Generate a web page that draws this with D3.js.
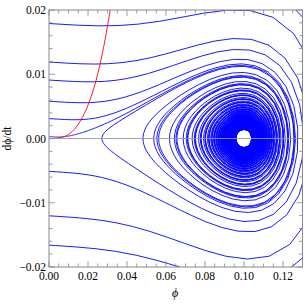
<!DOCTYPE html>
<html><head><meta charset="utf-8">
<script src="https://cdn.jsdelivr.net/npm/d3@7"></script>
<style>body{margin:0;background:#fff}svg{display:block}</style>
</head><body>
<script>
// ---- data ----
const xTickValues = [0, 0.02, 0.04, 0.06, 0.08, 0.10, 0.12];
const xTickLabels = ["0.00","0.02","0.04","0.06","0.08","0.10","0.12"];
const yTickValues = [-0.02, -0.01, 0, 0.01, 0.02];
const yTickLabels = ["\u22120.02","\u22120.01","0.00","0.01","0.02"];
// starting points of the blue trajectories (phi, dphi/dt) and integration direction
const seedPhi  = [0, 0, 0, 0, 0, 0, 0];
const seedDphi = [0.0179, 0.0119, 0.0091, 0.0058, 0.0031, 0.0003, -0.0166];
const seedDir  = [1, 1, 1, 1, 1, 1, -1]; // 1 forward in time, -1 backward in time
// red curve points
const redPhi  = [0, 0.004, 0.008, 0.012, 0.016, 0.020, 0.024, 0.028, 0.0315];
const redDphi = [0, 0.00004, 0.00033, 0.0011, 0.0027, 0.0052, 0.0089, 0.0142, 0.0202];
// model constants (Coleman-Weinberg-like potential with friction)
const vev = 0.1;        // centre of the spiral
const lambda = 3.0;     // potential strength
const damping = 0.019;  // friction coefficient at and above the separatrix energy
const holeHalfWidth = 0.004; // half width of the empty hole around the centre

const W = 306, H = 306;
const m = {l: 49, r: 3.5, t: 10, b: 39};
const x = d3.scaleLinear().domain([0, 0.13]).range([m.l, W - m.r]);
const y = d3.scaleLinear().domain([-0.02, 0.02]).range([H - m.b, m.t]);

const svg = d3.select("body").append("svg").attr("width", W).attr("height", H);
svg.append("defs").append("clipPath").attr("id","clip").append("rect")
  .attr("x", x(0)).attr("y", y(0.02)).attr("width", x(0.13)-x(0)).attr("height", y(-0.02)-y(0.02));

function V(f){ if (f === 0) return lambda*Math.pow(vev,4)/4;
  const a = Math.abs(f); return lambda*(Math.pow(a,4)*(Math.log(a/vev)-0.25) + Math.pow(vev,4)/4); }
function dV(f){ if (f === 0) return 0; return 4*lambda*f*f*f*Math.log(Math.abs(f)/vev); }
const Esep = V(0);
function deriv(f, p){
  const E = Math.max(0, p*p/2 + V(f));
  const gam = damping*Math.min(1, Math.sqrt(E/Esep));
  return [p, -gam*p - dV(f)];
}
const omega2 = 4*lambda*vev*vev;
const rhoHole = omega2*holeHalfWidth*holeHalfWidth/2;

function integrate(f0, p0, dir){
  const pts = [[f0,p0]]; let f=f0, p=p0; const dt = 0.2*dir;
  for (let i=0;i<400000;i++){
    const k1=deriv(f,p), k2=deriv(f+dt/2*k1[0], p+dt/2*k1[1]),
          k3=deriv(f+dt/2*k2[0], p+dt/2*k2[1]), k4=deriv(f+dt*k3[0], p+dt*k3[1]);
    f += dt/6*(k1[0]+2*k2[0]+2*k3[0]+k4[0]); p += dt/6*(k1[1]+2*k2[1]+2*k3[1]+k4[1]);
    if (i % 3 === 0) pts.push([f,p]);
    if (f < -0.003 || f > 0.2 || Math.abs(p) > 0.06) break;
    if (dir>0 && p*p/2 + V(f) < rhoHole) break;
  }
  pts.push([f,p]);
  return pts;
}

const line = d3.line().x(d=>x(d[0])).y(d=>y(d[1]));
const g = svg.append("g").attr("clip-path","url(#clip)");
seedPhi.forEach((f,i)=>{
  g.append("path").attr("d", line(integrate(f, seedDphi[i], seedDir[i])))
    .attr("fill","none").attr("stroke","#0000ff").attr("stroke-width",0.9);
});
g.append("path").attr("d", d3.line().x(d=>x(d[0])).y(d=>y(d[1])).curve(d3.curveCatmullRom)(redPhi.map((f,i)=>[f,redDphi[i]])))
  .attr("fill","none").attr("stroke","#ff0000").attr("stroke-width",0.9);

// zero axis
svg.append("line").attr("x1",x(0)).attr("x2",x(0.13)).attr("y1",y(0)).attr("y2",y(0))
  .attr("stroke","#999").attr("stroke-width",1.2).attr("opacity",0.85);

// frame
const frame = "#888";
svg.append("rect").attr("x",x(0)).attr("y",y(0.02)).attr("width",x(0.13)-x(0)).attr("height",y(-0.02)-y(0.02))
  .attr("fill","none").attr("stroke",frame).attr("stroke-width",1);
const xMinor = d3.range(0, 0.1301, 0.005), yMinor = d3.range(-0.02, 0.02001, 0.002);
const tk = svg.append("g").attr("stroke",frame).attr("stroke-width",0.8);
xMinor.forEach(v=>{ const major = xTickValues.some(t=>Math.abs(t-v)<1e-9); const L = major?6:3.5;
  tk.append("line").attr("x1",x(v)).attr("x2",x(v)).attr("y1",y(-0.02)).attr("y2",y(-0.02)-L);
  tk.append("line").attr("x1",x(v)).attr("x2",x(v)).attr("y1",y(0.02)).attr("y2",y(0.02)+L); });
yMinor.forEach(v=>{ const major = yTickValues.some(t=>Math.abs(t-v)<1e-9); const L = major?6:3.5;
  tk.append("line").attr("x1",x(0)).attr("x2",x(0)+L).attr("y1",y(v)).attr("y2",y(v));
  tk.append("line").attr("x1",x(0.13)).attr("x2",x(0.13)-L).attr("y1",y(v)).attr("y2",y(v)); });

const font = "'Liberation Serif','Times New Roman',serif";
xTickValues.forEach((v,i)=> svg.append("text").attr("x",x(v)).attr("y",y(-0.02)+13)
  .attr("text-anchor","middle").attr("font-family",font).attr("font-size",11.5).text(xTickLabels[i]));
yTickValues.forEach((v,i)=> svg.append("text").attr("x",x(0)-3).attr("y",y(v)+4)
  .attr("text-anchor","end").attr("font-family",font).attr("font-size",11.5).text(yTickLabels[i]));
svg.append("text").attr("x",175).attr("y",297).attr("text-anchor","middle").attr("font-family",font)
  .attr("font-style","italic").attr("font-size",12).text("\u03d5");
svg.append("text").attr("transform","translate(11,"+y(0)+") rotate(-90)").attr("text-anchor","middle")
  .attr("font-family",font).attr("font-size",11.5).text("d\u03d5/dt");
</script>
</body></html>
